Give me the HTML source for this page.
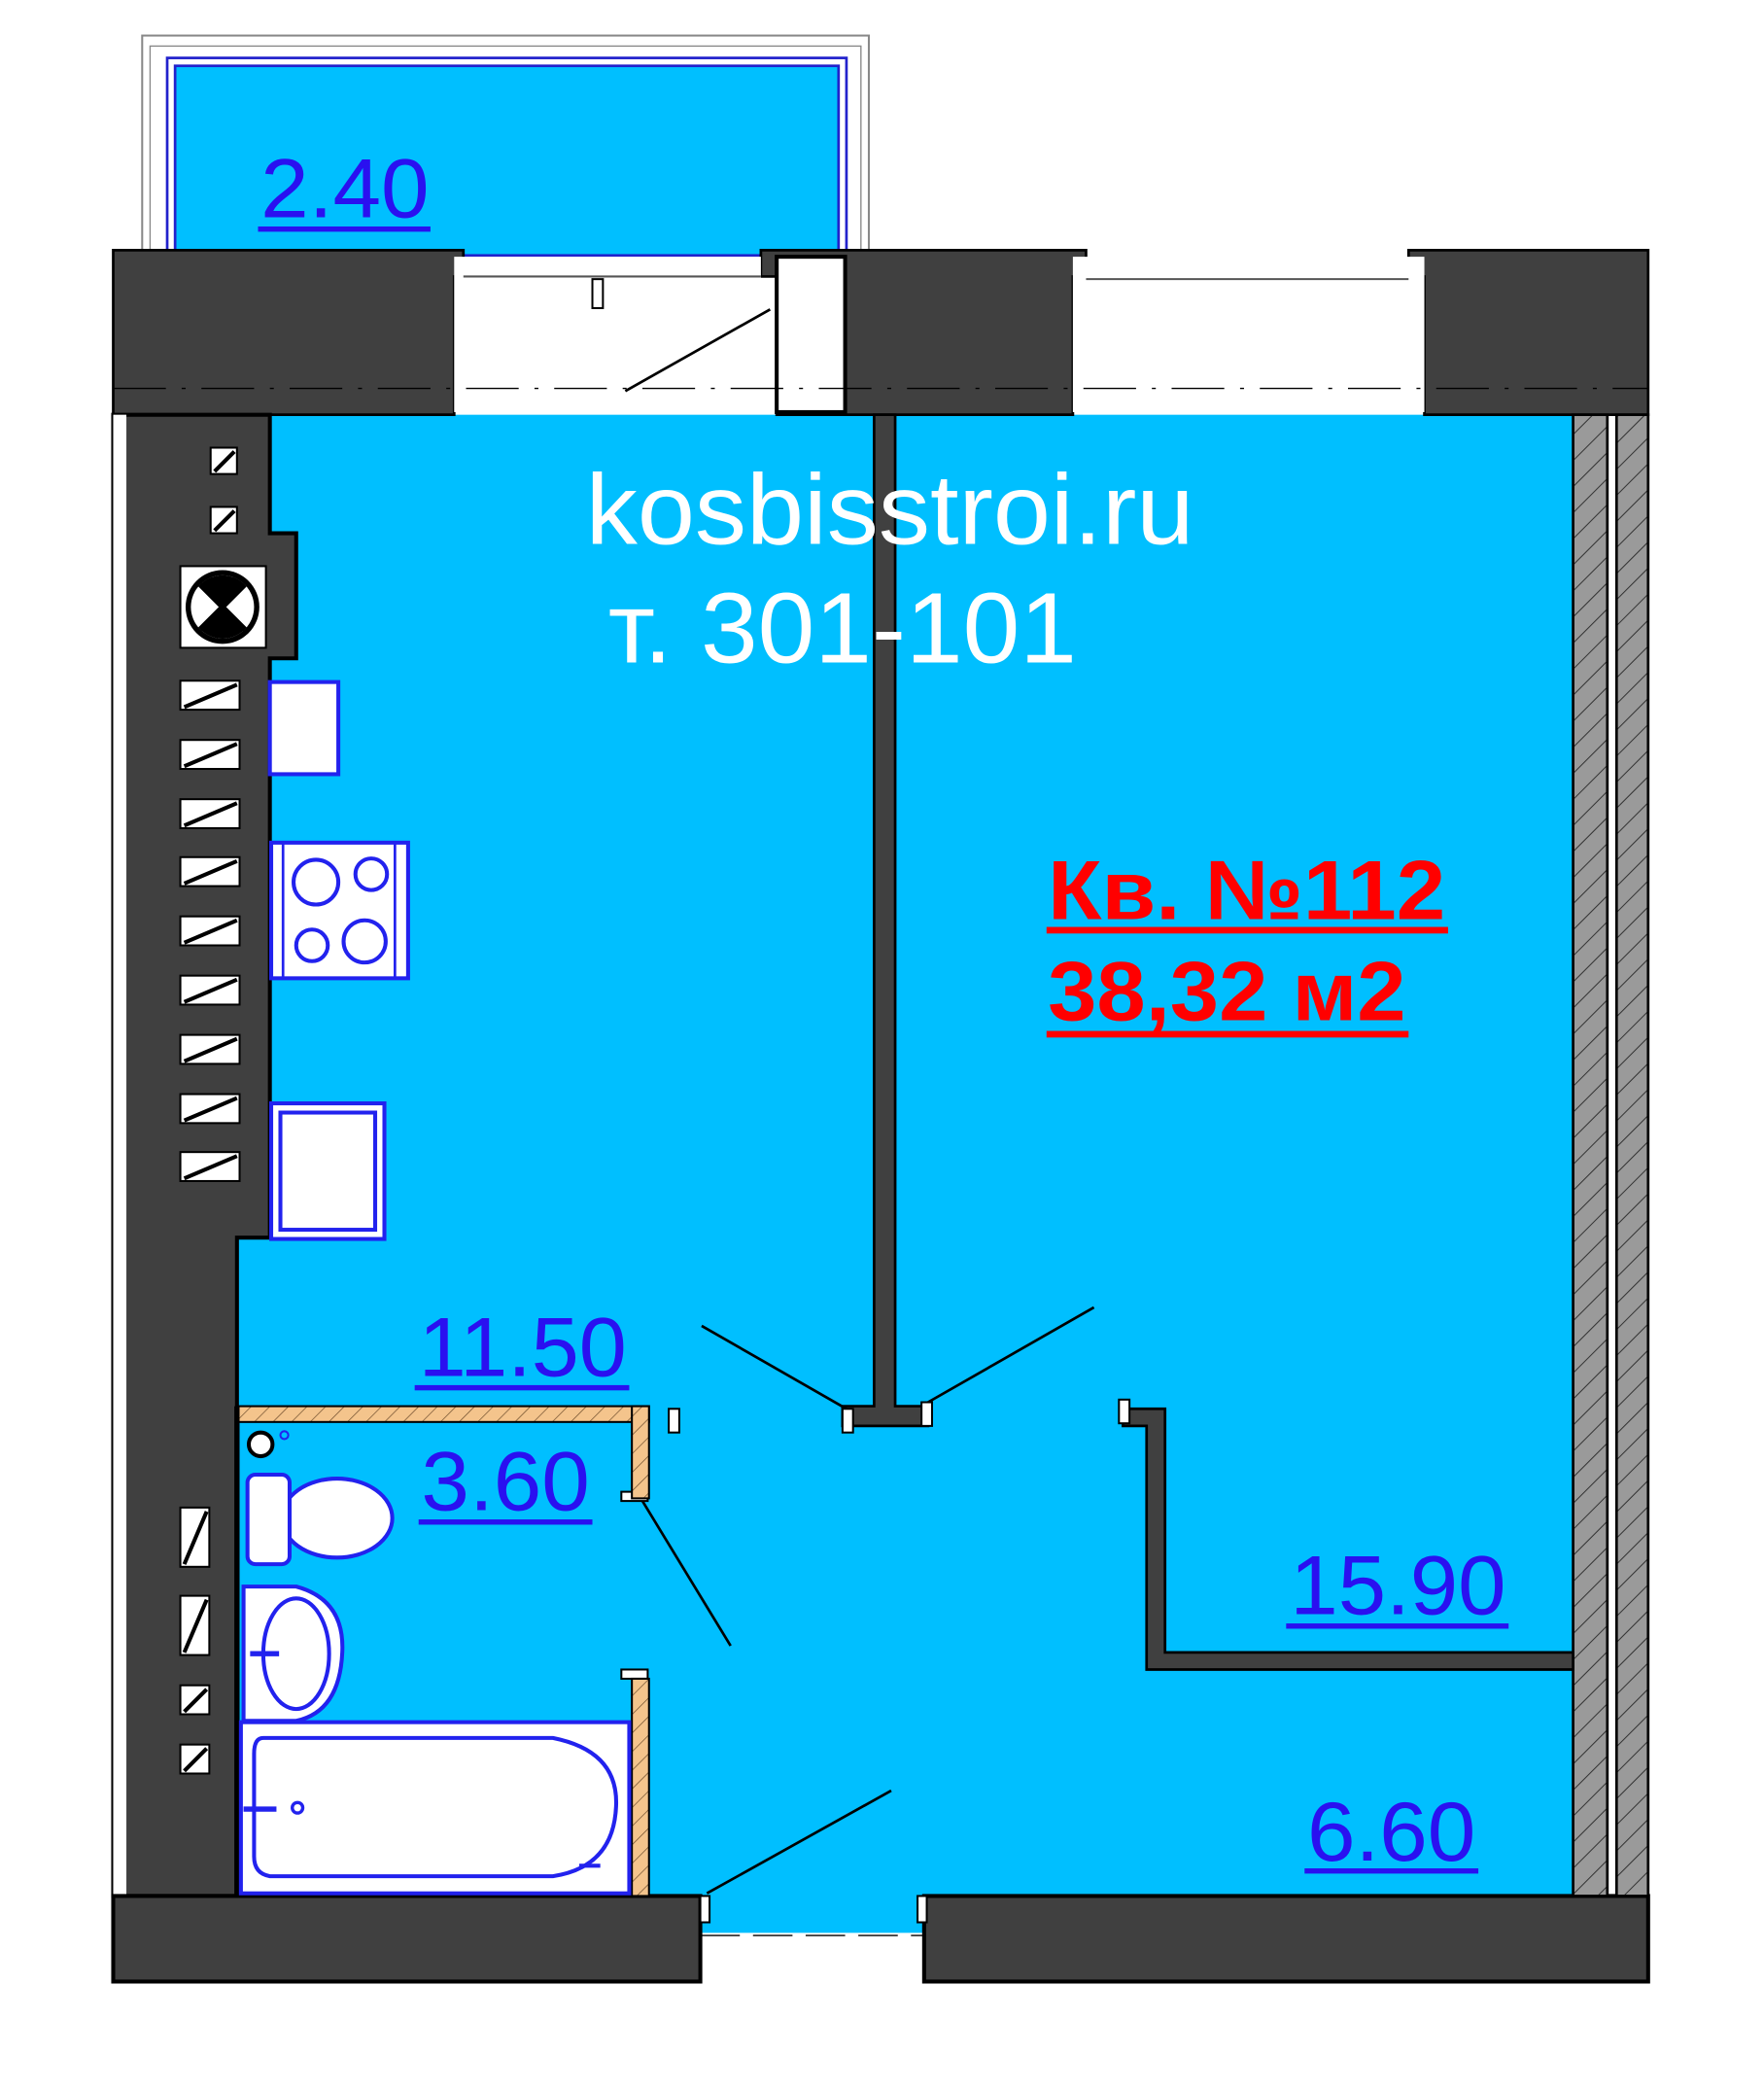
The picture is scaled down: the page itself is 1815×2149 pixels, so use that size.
<!DOCTYPE html>
<html><head><meta charset="utf-8"><style>html,body{margin:0;padding:0;background:#fff}svg{display:block}</style></head><body>
<svg width="1815" height="2149" viewBox="0 0 1340 1586.6" xmlns="http://www.w3.org/2000/svg">
<defs>
<pattern id="h" width="14" height="14" patternUnits="userSpaceOnUse" patternTransform="rotate(45)"><rect width="14" height="14" fill="#9a9a9a"/><line x1="0" y1="0" x2="0" y2="14" stroke="#333" stroke-width="1.5"/></pattern>
<pattern id="o" width="10" height="10" patternUnits="userSpaceOnUse" patternTransform="rotate(45)"><rect width="10" height="10" fill="#f4c48c"/><line x1="0" y1="0" x2="0" y2="10" stroke="#6a4a2a" stroke-width="1"/></pattern>
</defs>
<rect x="108" y="27" width="552" height="163" fill="#fff" stroke="#888" stroke-width="1.5"/>
<rect x="114" y="35" width="540" height="155" fill="none" stroke="#888" stroke-width="1"/>
<rect x="127" y="44" width="516" height="150" fill="none" stroke="#2222cc" stroke-width="2"/>
<rect x="133" y="50" width="504" height="144" fill="#00bfff" stroke="#2222cc" stroke-width="2"/>
<rect x="180" y="315" width="1016" height="1126" fill="#00bfff"/>
<rect x="532" y="1438" width="170" height="30" fill="#00bfff"/>
<path d="M86 190H352V210H345V315H86Z" fill="#404040" stroke="#000" stroke-width="2"/>
<path d="M578 190H825V210H815V315H590V210H578Z" fill="#404040" stroke="#000" stroke-width="2"/>
<rect x="590" y="195" width="52" height="118" fill="#fff" stroke="#000" stroke-width="3"/>
<path d="M1070 190H1252V315H1082V210H1070Z" fill="#404040" stroke="#000" stroke-width="2"/>
<rect x="345" y="195" width="233" height="118" fill="#fff"/>
<line x1="352" y1="210" x2="578" y2="210" stroke="#555" stroke-width="1.5"/>
<line x1="475" y1="297" x2="585" y2="235" stroke="#000" stroke-width="2"/>
<rect x="450" y="212" width="8" height="22" fill="#fff" stroke="#000" stroke-width="1.5"/>
<rect x="815" y="195" width="267" height="118" fill="#fff"/>
<line x1="825" y1="212" x2="1070" y2="212" stroke="#555" stroke-width="1.5"/>
<line x1="86" y1="295" x2="1252" y2="295" stroke="#000" stroke-width="1" stroke-dasharray="40 12 3 12"/>
<path d="M86 315H205V405H225V500H205V940H180V1440H86Z" fill="#404040" stroke="#000" stroke-width="3"/>
<rect x="86" y="315" width="10" height="1125" fill="#fff"/>
<rect x="86" y="1440" width="446" height="65" fill="#404040" stroke="#000" stroke-width="3"/>
<rect x="702" y="1440" width="550" height="65" fill="#404040" stroke="#000" stroke-width="3"/>
<line x1="532" y1="1470" x2="702" y2="1470" stroke="#000" stroke-width="1" stroke-dasharray="30 10"/>
<rect x="1195" y="315" width="26" height="1125" fill="url(#h)" stroke="#000" stroke-width="2"/>
<rect x="1228" y="315" width="24" height="1125" fill="url(#h)" stroke="#000" stroke-width="2"/>
<g fill="#fff" stroke="#000" stroke-width="1.5">
<rect x="160" y="340" width="20" height="20"/><rect x="160" y="385" width="20" height="20"/>
<rect x="137" y="430" width="65" height="62"/>
</g>
<circle cx="169" cy="461" r="28" fill="#000"/><circle cx="169" cy="461" r="24" fill="#fff"/>
<path d="M152 444L186 478M186 444L152 478" stroke="#000" stroke-width="4"/>
<path d="M169 461L152 444A24 24 0 0 1 186 444Z M169 461L152 478A24 24 0 0 0 186 478Z" fill="#000"/>
<g fill="#fff" stroke="#000" stroke-width="1.5">
<rect x="137" y="517" width="45" height="22"/><rect x="137" y="562" width="45" height="22"/><rect x="137" y="607" width="45" height="22"/><rect x="137" y="651" width="45" height="22"/><rect x="137" y="696" width="45" height="22"/><rect x="137" y="741" width="45" height="22"/><rect x="137" y="786" width="45" height="22"/><rect x="137" y="831" width="45" height="22"/><rect x="137" y="875" width="45" height="22"/>
<rect x="137" y="1145" width="22" height="45"/><rect x="137" y="1212" width="22" height="45"/><rect x="137" y="1280" width="22" height="22"/><rect x="137" y="1325" width="22" height="22"/>
</g>
<g stroke="#000" stroke-width="3">
<path d="M163 358L178 343M163 403L178 388"/>
<path d="M140 537L180 520M140 582L180 565M140 627L180 610M140 671L180 654M140 716L180 699M140 761L180 744M140 806L180 789M140 851L180 834M140 895L180 878"/>
<path d="M140 1188L157 1148M140 1255L157 1215M140 1300L157 1283M140 1345L157 1328"/>
</g>
<rect x="205" y="518" width="52" height="70" fill="#fff" stroke="#2222ee" stroke-width="3"/>
<rect x="206" y="640" width="104" height="103" fill="#fff" stroke="#2222ee" stroke-width="3"/>
<line x1="215" y1="640" x2="215" y2="743" stroke="#2222ee" stroke-width="2"/>
<rect x="300" y="640" width="10" height="103" fill="none" stroke="#2222ee" stroke-width="2"/>
<g fill="none" stroke="#2222ee" stroke-width="3"><circle cx="240" cy="670" r="17"/><circle cx="282" cy="664" r="12"/><circle cx="237" cy="718" r="12"/><circle cx="277" cy="715" r="16"/></g>
<rect x="206" y="838" width="86" height="103" fill="#fff" stroke="#2222ee" stroke-width="3"/>
<rect x="213" y="845" width="72" height="89" fill="none" stroke="#2222ee" stroke-width="3"/>
<path d="M664 315H680V1068H705V1083H640V1068H664Z" fill="#404040" stroke="#000" stroke-width="2"/>
<path d="M853 1070H885V1255H1195V1268H871V1083H853Z" fill="#404040" stroke="#000" stroke-width="2"/>
<g stroke="#000" stroke-width="2" fill="none">
<line x1="533" y1="1007" x2="643" y2="1070"/><line x1="705" y1="1065" x2="831" y2="993"/>
<line x1="488" y1="1140" x2="555" y2="1250"/><line x1="537" y1="1438" x2="677" y2="1360"/>
</g>
<g fill="#fff" stroke="#000" stroke-width="1.5">
<rect x="640" y="1070" width="8" height="18"/><rect x="700" y="1065" width="8" height="18"/><rect x="850" y="1063" width="8" height="18"/>
<rect x="508" y="1070" width="8" height="18"/><rect x="472" y="1133" width="20" height="7"/><rect x="472" y="1268" width="20" height="7"/>
<rect x="532" y="1440" width="7" height="20"/><rect x="697" y="1440" width="7" height="20"/>
</g>
<rect x="180" y="1068" width="313" height="12" fill="url(#o)" stroke="#000" stroke-width="1.5"/>
<rect x="480" y="1068" width="13" height="70" fill="url(#o)" stroke="#000" stroke-width="1.5"/>
<rect x="480" y="1275" width="13" height="165" fill="url(#o)" stroke="#000" stroke-width="1.5"/>
<line x1="180" y1="1068" x2="180" y2="1440" stroke="#000" stroke-width="4"/>
<circle cx="198" cy="1097" r="9" fill="#fff" stroke="#000" stroke-width="3"/>
<circle cx="216" cy="1090" r="3" fill="none" stroke="#2222ee" stroke-width="1.5"/>
<ellipse cx="256" cy="1153" rx="42" ry="30" fill="#fff" stroke="#2222ee" stroke-width="3"/>
<rect x="188" y="1120" width="32" height="68" rx="6" fill="#fff" stroke="#2222ee" stroke-width="3"/>
<path d="M185 1205H225Q262 1215 260 1255Q258 1300 225 1307H185Z" fill="#fff" stroke="#2222ee" stroke-width="3"/>
<ellipse cx="225" cy="1256" rx="25" ry="42" fill="none" stroke="#2222ee" stroke-width="3"/>
<line x1="190" y1="1256" x2="212" y2="1256" stroke="#2222ee" stroke-width="4"/>
<rect x="183" y="1308" width="295" height="130" fill="#fff" stroke="#2222ee" stroke-width="3"/>
<path d="M200 1320H420Q470 1330 468 1372Q466 1418 420 1425H205Q193 1423 193 1410V1332Q193 1320 200 1320Z" fill="none" stroke="#2222ee" stroke-width="3"/>
<line x1="185" y1="1374" x2="210" y2="1374" stroke="#2222ee" stroke-width="4"/>
<circle cx="226" cy="1373" r="4" fill="none" stroke="#2222ee" stroke-width="2.5"/>
<line x1="440" y1="1417" x2="456" y2="1417" stroke="#2222ee" stroke-width="3"/>
<g font-family="Liberation Sans, sans-serif">
<text x="445" y="413" font-size="76" fill="#fff" textLength="462" lengthAdjust="spacingAndGlyphs">kosbisstroi.ru</text>
<text x="462" y="503" font-size="76" fill="#fff" textLength="356" lengthAdjust="spacingAndGlyphs">т. 301-101</text>
<g fill="#ff0000" font-weight="bold" font-size="64">
<text x="796" y="698" textLength="302" lengthAdjust="spacingAndGlyphs">Кв. №112</text><text x="796" y="775" textLength="272" lengthAdjust="spacingAndGlyphs">38,32 м2</text>
</g>
<rect x="795" y="704" width="305" height="5" fill="#ff0000"/>
<rect x="795" y="783" width="275" height="5" fill="#ff0000"/>
<g fill="#2a10f0" font-size="64" lengthAdjust="spacingAndGlyphs">
<text x="198" y="165" textLength="128" lengthAdjust="spacingAndGlyphs">2.40</text><text x="318" y="1045" textLength="158" lengthAdjust="spacingAndGlyphs">11.50</text><text x="320" y="1147" textLength="128" lengthAdjust="spacingAndGlyphs">3.60</text><text x="980" y="1226" textLength="164" lengthAdjust="spacingAndGlyphs">15.90</text><text x="993" y="1413" textLength="128" lengthAdjust="spacingAndGlyphs">6.60</text>
</g>
<g fill="#2a10f0">
<rect x="196" y="172" width="131" height="4"/><rect x="315" y="1052" width="163" height="4"/><rect x="318" y="1154" width="132" height="4"/><rect x="977" y="1233" width="169" height="4"/><rect x="991" y="1419" width="132" height="4"/>
</g>
</g>
</svg>
</body></html>
